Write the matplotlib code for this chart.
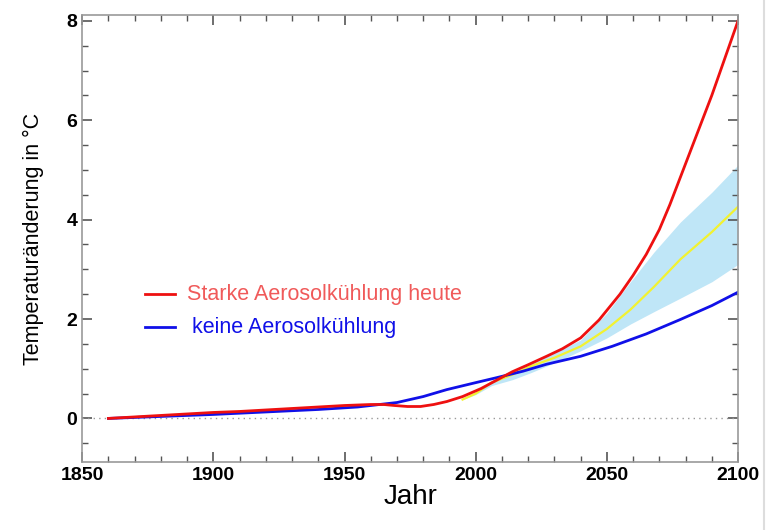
import numpy as np
import matplotlib.pyplot as plt
from matplotlib.lines import Line2D
from matplotlib.ticker import MultipleLocator

plt.rcParams['font.family'] = ['Liberation Sans', 'DejaVu Sans']

# values
years_red = [1860, 1870, 1880, 1890, 1900, 1910, 1920, 1930, 1940, 1950, 1960, 1965, 1969, 1974, 1979, 1984, 1989,
             1995, 2002, 2008, 2014, 2020, 2027, 2033, 2040, 2047, 2055, 2060, 2065, 2070, 2074, 2078, 2082,
             2086, 2090, 2094, 2097, 2100]
red = [0.0, 0.03, 0.06, 0.09, 0.12, 0.14, 0.17, 0.20, 0.23, 0.26, 0.28, 0.28, 0.26, 0.24, 0.24, 0.28, 0.34,
       0.44, 0.60, 0.77, 0.94, 1.08, 1.25, 1.40, 1.62, 1.98, 2.50, 2.88, 3.30, 3.80, 4.30, 4.85, 5.40,
       5.95, 6.50, 7.10, 7.55, 8.00]

years_blue = [1860, 1880, 1900, 1920, 1940, 1955, 1970, 1980, 1989, 2000, 2008, 2018, 2027, 2040, 2052, 2065,
              2078, 2090, 2100]
blue = [0.0, 0.04, 0.08, 0.13, 0.18, 0.23, 0.32, 0.44, 0.58, 0.72, 0.82, 0.95, 1.09, 1.25, 1.45, 1.70,
        1.99, 2.27, 2.54]

years_mid = [1995, 2000, 2006, 2014, 2021, 2030, 2040, 2050, 2059, 2068, 2078, 2090, 2100]
mid = [0.38, 0.50, 0.72, 0.88, 1.05, 1.22, 1.45, 1.80, 2.19, 2.65, 3.20, 3.75, 4.26]
band_lo = [0.38, 0.48, 0.66, 0.78, 0.92, 1.12, 1.36, 1.62, 1.90, 2.15, 2.42, 2.75, 3.10]
band_hi = [0.38, 0.52, 0.76, 0.94, 1.12, 1.32, 1.58, 2.12, 2.75, 3.35, 3.95, 4.55, 5.10]

label_red = "Starke Aerosolkühlung heute"
label_blue = "keine Aerosolkühlung"

fig = plt.figure(figsize=(7.68, 5.30), dpi=100)
ax = fig.add_axes([0.107, 0.128, 0.854, 0.844])

ax.fill_between(years_mid, band_lo, band_hi, color="#bfe6f7", lw=0)
ax.axhline(0, color="#999999", lw=1, ls=(0, (1, 3)))
ax.plot(years_mid, mid, color="#f2f230", lw=1.6)
ax.plot(years_blue, blue, color="#1010e8", lw=2)
ax.plot(years_red, red, color="#ee1010", lw=2)

ax.set_xlim(1850, 2100)
ax.set_ylim(-0.88, 8.12)
ax.xaxis.set_major_locator(MultipleLocator(50))
ax.xaxis.set_minor_locator(MultipleLocator(10))
ax.yaxis.set_major_locator(MultipleLocator(2))
ax.yaxis.set_minor_locator(MultipleLocator(0.5))
ax.tick_params(which="both", direction="in", top=True, right=True, color="#555555")
ax.tick_params(which="major", length=7, width=1.2, labelsize=14)
ax.tick_params(which="minor", length=4, width=1)
for lbl in ax.get_xticklabels() + ax.get_yticklabels():
    lbl.set_fontweight("bold")
for s in ax.spines.values():
    s.set_color("#999999")
    s.set_linewidth(1.2)

ax.set_xlabel("Jahr", fontsize=20, labelpad=0)
ax.set_ylabel("Temperaturänderung in °C", fontsize=15.5, labelpad=16)

# in-plot legend
ax.plot([1874, 1885.5], [2.5, 2.5], color="#ee1010", lw=2)
ax.text(1890, 2.5, label_red, color="#f05a5a", fontsize=15.5, va="center")
ax.plot([1874, 1885.5], [1.83, 1.83], color="#1010e8", lw=2)
ax.text(1892, 1.83, label_blue, color="#1010e8", fontsize=15.5, va="center")

# faint frame line at the right edge of the image
fig.add_artist(Line2D([0.995, 0.995], [0, 1], transform=fig.transFigure, color="#dddddd", lw=1.5))

fig.savefig("out.png", dpi=100)
